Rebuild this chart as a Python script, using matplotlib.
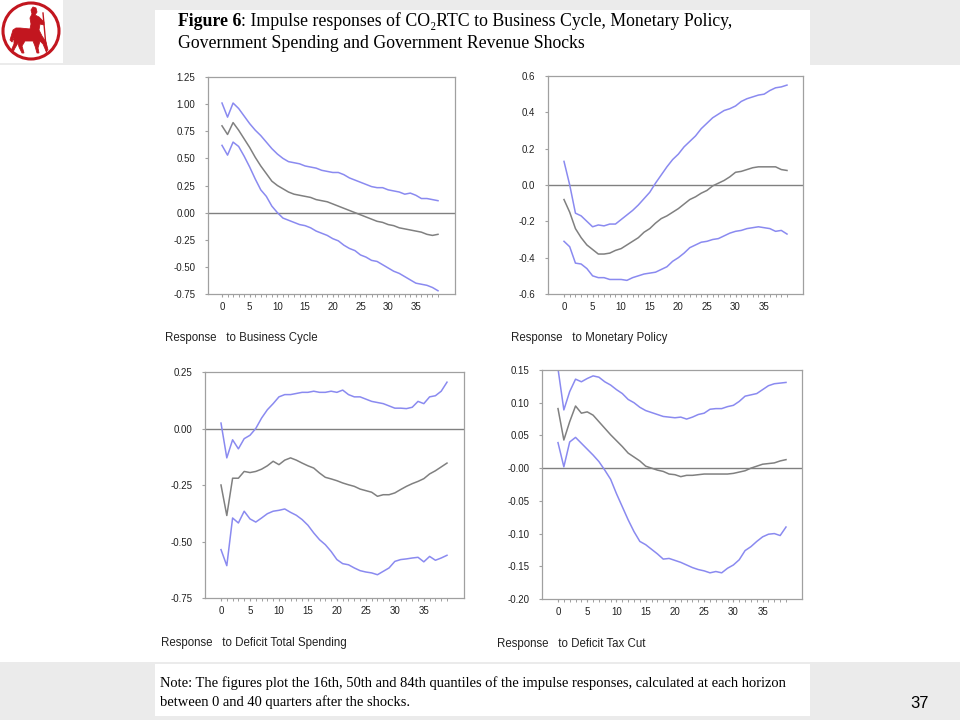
import matplotlib
matplotlib.use("Agg")
import matplotlib.pyplot as plt
from matplotlib.patches import Rectangle, Circle, Polygon
import numpy as np

# horizons 0..39 (quarters)
horizon = list(range(40))

# Response to Business Cycle
bc_upper = [1.01, 0.88, 1.01, 0.96, 0.89, 0.82, 0.76, 0.71, 0.65, 0.59,
            0.54, 0.50, 0.47, 0.46, 0.45, 0.43, 0.42, 0.41, 0.39, 0.38,
            0.37, 0.37, 0.35, 0.32, 0.30, 0.28, 0.26, 0.24, 0.23, 0.23,
            0.21, 0.20, 0.19, 0.17, 0.18, 0.16, 0.13, 0.13, 0.12, 0.11]
bc_median = [0.80, 0.72, 0.83, 0.76, 0.68, 0.60, 0.51, 0.43, 0.36, 0.29,
             0.25, 0.22, 0.19, 0.17, 0.16, 0.15, 0.14, 0.12, 0.11, 0.10,
             0.08, 0.06, 0.04, 0.02, 0.00, -0.02, -0.04, -0.06, -0.08, -0.09,
             -0.11, -0.12, -0.14, -0.15, -0.16, -0.17, -0.18, -0.20, -0.21, -0.20]
bc_lower = [0.62, 0.53, 0.65, 0.61, 0.52, 0.42, 0.31, 0.21, 0.15, 0.06,
            0.00, -0.05, -0.07, -0.09, -0.11, -0.12, -0.14, -0.17, -0.19, -0.21,
            -0.24, -0.26, -0.30, -0.33, -0.35, -0.39, -0.41, -0.44, -0.45, -0.48,
            -0.51, -0.54, -0.56, -0.59, -0.62, -0.65, -0.66, -0.67, -0.69, -0.72]

# Response to Monetary Policy
mp_upper = [0.13, 0.00, -0.155, -0.17, -0.20, -0.23, -0.22, -0.225, -0.215, -0.215,
            -0.19, -0.165, -0.14, -0.11, -0.075, -0.04, 0.01, 0.055, 0.10, 0.14,
            0.17, 0.21, 0.24, 0.27, 0.31, 0.34, 0.37, 0.39, 0.41, 0.42,
            0.435, 0.46, 0.475, 0.485, 0.495, 0.50, 0.52, 0.535, 0.54, 0.55]
mp_median = [-0.08, -0.15, -0.24, -0.29, -0.33, -0.355, -0.38, -0.38, -0.375, -0.36,
             -0.35, -0.33, -0.31, -0.29, -0.26, -0.24, -0.21, -0.185, -0.17, -0.15,
             -0.13, -0.105, -0.08, -0.065, -0.045, -0.03, -0.005, 0.01, 0.025, 0.045,
             0.07, 0.075, 0.085, 0.095, 0.10, 0.10, 0.10, 0.10, 0.085, 0.08]
mp_lower = [-0.31, -0.34, -0.43, -0.435, -0.46, -0.50, -0.51, -0.51, -0.52, -0.52,
            -0.52, -0.525, -0.51, -0.50, -0.49, -0.485, -0.48, -0.465, -0.45, -0.42,
            -0.40, -0.375, -0.345, -0.33, -0.315, -0.31, -0.30, -0.295, -0.28, -0.265,
            -0.255, -0.25, -0.24, -0.235, -0.23, -0.235, -0.24, -0.255, -0.25, -0.27]

# Response to Deficit Total Spending
ts_upper = [0.024, -0.13, -0.05, -0.09, -0.045, -0.03, 0.0, 0.046, 0.083, 0.11,
            0.14, 0.15, 0.15, 0.155, 0.16, 0.16, 0.165, 0.16, 0.16, 0.165,
            0.16, 0.17, 0.15, 0.14, 0.14, 0.13, 0.12, 0.115, 0.11, 0.10,
            0.09, 0.09, 0.088, 0.094, 0.12, 0.11, 0.14, 0.145, 0.165, 0.205]
ts_median = [-0.25, -0.385, -0.22, -0.22, -0.19, -0.195, -0.19, -0.18, -0.165, -0.145,
             -0.16, -0.14, -0.13, -0.14, -0.153, -0.165, -0.175, -0.197, -0.216, -0.223,
             -0.231, -0.241, -0.249, -0.256, -0.268, -0.275, -0.282, -0.30, -0.293, -0.293,
             -0.285, -0.27, -0.256, -0.244, -0.234, -0.222, -0.201, -0.187, -0.17, -0.153]
ts_lower = [-0.536, -0.607, -0.396, -0.418, -0.366, -0.40, -0.414, -0.396, -0.377, -0.366,
            -0.362, -0.356, -0.371, -0.384, -0.403, -0.428, -0.462, -0.492, -0.514, -0.544,
            -0.58, -0.598, -0.603, -0.617, -0.629, -0.635, -0.639, -0.647, -0.632, -0.617,
            -0.588, -0.58, -0.577, -0.573, -0.57, -0.59, -0.566, -0.583, -0.573, -0.561]

# Response to Deficit Tax Cut
tc_upper = [0.152, 0.089, 0.117, 0.136, 0.132, 0.137, 0.141, 0.139, 0.132, 0.127,
            0.12, 0.114, 0.105, 0.10, 0.093, 0.088, 0.085, 0.082, 0.079, 0.078,
            0.077, 0.078, 0.075, 0.078, 0.082, 0.084, 0.09, 0.091, 0.091, 0.094,
            0.096, 0.102, 0.11, 0.112, 0.114, 0.12, 0.126, 0.129, 0.13, 0.131]
tc_median = [0.091, 0.043, 0.071, 0.095, 0.084, 0.086, 0.081, 0.071, 0.061, 0.051,
             0.042, 0.033, 0.023, 0.017, 0.011, 0.003, 0.0, -0.003, -0.005, -0.009,
             -0.01, -0.013, -0.011, -0.011, -0.01, -0.009, -0.009, -0.009, -0.009, -0.009,
             -0.008, -0.006, -0.004, 0.0, 0.003, 0.006, 0.007, 0.008, 0.011, 0.013]
tc_lower = [0.039, 0.002, 0.04, 0.047, 0.038, 0.029, 0.02, 0.01, -0.003, -0.017,
            -0.039, -0.059, -0.079, -0.097, -0.112, -0.117, -0.124, -0.131, -0.139, -0.138,
            -0.141, -0.144, -0.148, -0.152, -0.155, -0.157, -0.16, -0.158, -0.16, -0.153,
            -0.148, -0.14, -0.126, -0.12, -0.112, -0.105, -0.101, -0.10, -0.103, -0.09]

captions = ["Response   to Business Cycle", "Response   to Monetary Policy",
            "Response   to Deficit Total Spending", "Response   to Deficit Tax Cut"]
yticks = [np.arange(-0.75, 1.26, 0.25), np.arange(-0.6, 0.61, 0.2),
          np.arange(-0.75, 0.26, 0.25), np.arange(-0.20, 0.151, 0.05)]
ylabels = [["%.2f" % v for v in yticks[0]], ["%.1f" % v for v in yticks[1]],
           ["%.2f" % v for v in yticks[2]],
           ["-0.00" if abs(v) < 1e-9 else "%.2f" % v for v in yticks[3]]]
series = [(bc_lower, bc_median, bc_upper), (mp_lower, mp_median, mp_upper),
          (ts_lower, ts_median, ts_upper), (tc_lower, tc_median, tc_upper)]

W, H = 960, 720
BLUE = "#8a8af0"
GRAY = "#808080"
SLIDE = "#ebebeb"

fig = plt.figure(figsize=(9.6, 7.2), dpi=100)
fig.patch.set_facecolor("white")


def fx(x):
    return x / W


def fy(y):
    return 1 - y / H


# slide background bands
for (x0, y0, x1, y1, c) in [(0, 0, 960, 65, SLIDE), (0, 0, 63, 63, "white"),
                            (155, 10, 810, 65, "white"),
                            (0, 662, 960, 720, SLIDE), (155, 664, 810, 716, "white")]:
    fig.patches.append(Rectangle((fx(x0), fy(y1)), fx(x1 - x0), (y1 - y0) / H,
                                 transform=fig.transFigure, facecolor=c,
                                 edgecolor="none", zorder=-5))

# logo (centaur in a ring)
lax = fig.add_axes([0, fy(65), fx(65), 65 / H])
lax.set_zorder(5)
lax.set_xlim(0, 65)
lax.set_ylim(65, 0)
lax.axis("off")
RED = "#c2161f"
lax.add_patch(Circle((31, 31), 28, fill=False, edgecolor=RED, lw=2.2))
centaur = [(10, 40), (13, 30), (16, 28), (20, 28), (30, 29), (31, 24), (30, 18),
           (32, 14), (31, 10), (33, 7), (36, 8), (37, 12), (35, 15), (39, 17),
           (44, 22), (44, 25), (40, 24), (39, 30), (42, 36), (46, 42), (48, 50),
           (46, 51), (43, 44), (40, 41), (38, 48), (39, 53), (37, 53), (35, 46),
           (33, 41), (25, 41), (22, 46), (24, 53), (22, 53), (19, 47), (18, 43),
           (15, 48), (13, 52), (11, 51), (14, 44), (14, 38), (12, 42)]
lax.add_patch(Polygon(centaur, closed=True, facecolor=RED, edgecolor=RED, lw=0.6))
lax.plot([43, 46.5], [13, 52], color=RED, lw=1.0)

# panels: left, top, right, bottom px; pixel of horizon 0 and 39
boxes = [(208, 77, 455, 294, 222, 438), (548, 76, 803, 294, 564, 787),
         (205, 372, 464, 598, 221, 447), (542, 370, 802, 599, 558, 786)]
cap_pos = [(165, 338), (511, 338), (161, 643), (497, 644)]

for i, (l, t, r, b, p0, p39) in enumerate(boxes):
    ax = fig.add_axes([fx(l), fy(b), fx(r - l), (b - t) / H])
    u = (p39 - p0) / 39.0
    ax.set_xlim((l - p0) / u, 39 + (r - p39) / u)
    ax.set_ylim(yticks[i][0], yticks[i][-1])
    lo, med, up = series[i]
    ax.axhline(0, color=GRAY, lw=1.0, zorder=1)
    ax.plot(horizon, up, color=BLUE, lw=1.1, zorder=2)
    ax.plot(horizon, lo, color=BLUE, lw=1.1, zorder=2)
    ax.plot(horizon, med, color=GRAY, lw=1.1, zorder=3)
    ax.set_yticks(yticks[i])
    ax.set_yticklabels(ylabels[i])
    ax.set_xticks(range(0, 36, 5))
    ax.set_xticks(horizon, minor=True)
    for s in ax.spines.values():
        s.set_color("#a0a0a0")
        s.set_linewidth(0.9)
    ax.tick_params(axis="y", direction="out", length=2.5, width=0.8, color="#a0a0a0",
                   labelsize=7, pad=6.5, labelcolor="#222222")
    ax.tick_params(axis="x", which="major", direction="out", length=2.5, width=0.8,
                   color="#a0a0a0", labelsize=7, pad=3, labelcolor="#222222")
    ax.tick_params(axis="x", which="minor", direction="out", length=1.8, width=0.7,
                   color="#a0a0a0")
    for lab in ax.get_xticklabels() + ax.get_yticklabels():
        lab.set_fontfamily("Liberation Sans")
    cx, cy = cap_pos[i]
    fig.text(fx(cx), fy(cy), captions[i], fontsize=8.3, family="Liberation Sans",
             color="#222222", ha="left", va="center")

renderer = fig.canvas.get_renderer()


def fit(txt, target):
    w = txt.get_window_extent(renderer).width
    txt.set_fontsize(txt.get_fontsize() * target / w)
    return txt.get_fontsize()


serif = ["Liberation Serif", "DejaVu Serif"]
t2 = fig.text(fx(178), fy(43), "Government Spending and Government Revenue Shocks",
              fontsize=12, family=serif, ha="left", va="center", color="black")
size = fit(t2, 404)
t1a = fig.text(fx(178), fy(21), "Figure 6", fontsize=size, family=serif,
               weight="bold", ha="left", va="center", color="black")
wa = t1a.get_window_extent(renderer).width
fig.text(fx(178 + wa), fy(21),
         ": Impulse responses of CO\u2082RTC to Business Cycle, Monetary Policy,",
         fontsize=size, family=serif, ha="left", va="center", color="black")

n1 = fig.text(fx(160), fy(683),
              "Note: The figures plot the 16th, 50th and 84th quantiles of the impulse "
              "responses, calculated at each horizon",
              fontsize=10, family=serif, ha="left", va="center", color="black")
nsize = fit(n1, 627)
fig.text(fx(160), fy(702), "between 0 and 40 quarters after the shocks.",
         fontsize=nsize, family=serif, ha="left", va="center", color="black")

fig.text(fx(920), fy(703), "37", fontsize=12, family="Liberation Sans",
         ha="center", va="center", color="black")

fig.savefig("out.png", dpi=100, facecolor=fig.get_facecolor())
